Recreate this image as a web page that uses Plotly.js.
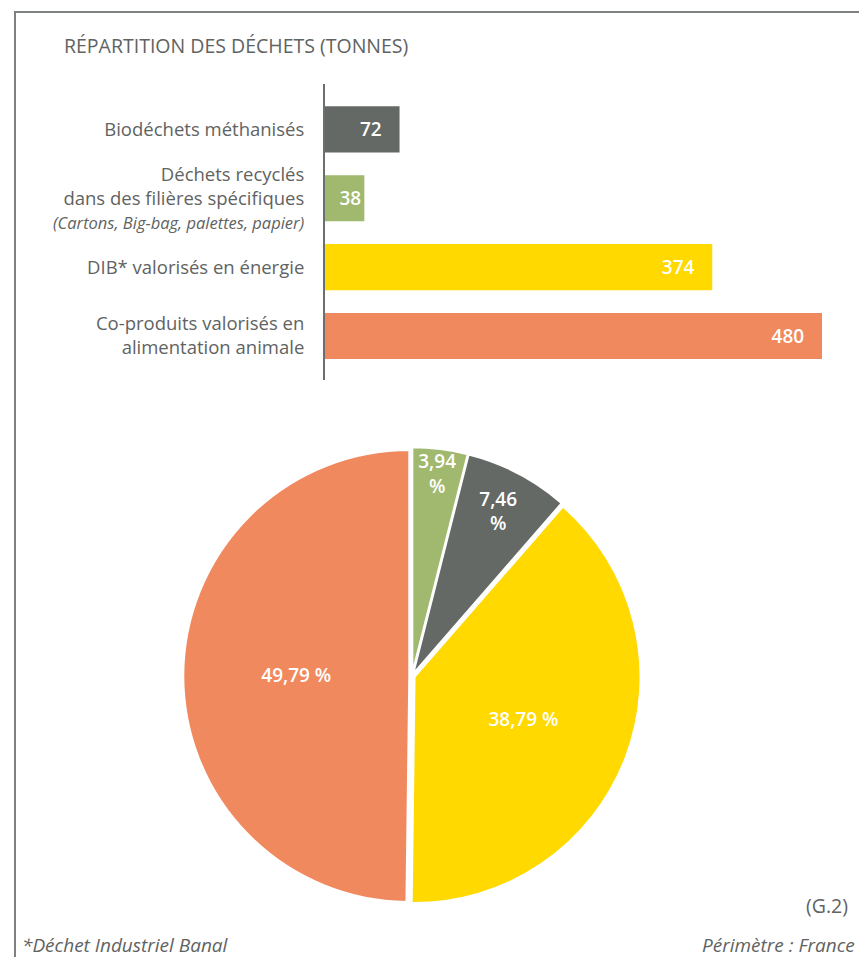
<!DOCTYPE html>
<html>
<head>
<meta charset="utf-8">
<script src="https://cdn.plot.ly/plotly-3.0.1.min.js"></script>
<style>html,body{margin:0;padding:0;background:#fff;}#chart{width:859px;height:957px;}</style>
</head>
<body>
<div id="chart"></div>
<script>
// ---- data ----
const categories = ["Biodéchets méthanisés", "Déchets recyclés", "DIB valorisés", "Co-produits"];
const tickLabels = [
  "Biodéchets méthanisés",
  "Déchets recyclés<br>dans des filières spécifiques<br><i><span style=\"font-size:16.5px\">(Cartons, Big-bag, palettes, papier)</span></i>",
  "DIB* valorisés en énergie",
  "Co-produits valorisés en<br>alimentation animale"
];
const tonnes = [72, 38, 374, 480];
const barColors = ["#646966", "#a1b96f", "#ffd900", "#f08a5e"];

const pieLabels = ["Déchets recyclés", "Biodéchets méthanisés", "DIB valorisés", "Co-produits"];
const piePercent = [3.94, 7.46, 38.79, 49.79];
const pieText = ["3,94<br>%", "7,46<br>%", "38,79 %", "49,79 %"];
const pieColors = ["#a1b96f", "#646966", "#ffd900", "#f08a5e"];

const W = 859, H = 957;
const px = x => x / W;
const py = y => 1 - y / H;
const grey = "#5f6362";
const font = "Open Sans, Noto Sans, sans-serif";

const bar = {
  type: "bar", orientation: "h",
  x: tonnes, y: categories,
  marker: {color: barColors},
  text: tonnes.map(v => v >= 50 ? v + "\u00a0\u00a0\u00a0" : String(v)),
  textposition: "inside", insidetextanchor: "end", textangle: 0,
  textfont: {color: "#ffffff", size: 19, family: font, weight: 600},
  constraintext: "none",
  cliponaxis: false,
  hoverinfo: "skip",
  xaxis: "x", yaxis: "y", showlegend: false
};

const pull = 0.012;
const R = 226 * (1 + pull);
const cx = 412, cy = 676;
const pie = {
  type: "pie", labels: pieLabels, values: piePercent,
  text: pieText, textinfo: "text", textposition: "inside",
  insidetextorientation: "horizontal",
  textfont: {color: "#ffffff", size: 19, family: font, weight: 600},
  marker: {colors: pieColors, line: {color: "#ffffff", width: 2}},
  sort: false, direction: "clockwise", rotation: 0,
  pull: [pull, pull, pull, pull],
  domain: {x: [px(cx - R), px(cx + R)], y: [py(cy + R), py(cy - R)]},
  showlegend: false, hoverinfo: "skip"
};

const layout = {
  width: W, height: H,
  margin: {l: 0, r: 0, t: 0, b: 0, pad: 0},
  paper_bgcolor: "#ffffff", plot_bgcolor: "rgba(0,0,0,0)",
  font: {family: font, color: grey},
  bargap: 0.33,
  uniformtext: {minsize: 19, mode: "show"},
  xaxis: {domain: [px(325), px(822)], range: [0, 480], visible: false, fixedrange: true},
  yaxis: {
    domain: [py(380), py(84)], type: "category",
    range: [3.64, -0.66],
    tickvals: categories, ticktext: tickLabels,
    showline: true, linecolor: "#6b6f6d", linewidth: 2,
    ticks: "", ticklabelstandoff: 15, showgrid: false, zeroline: false,
    tickfont: {size: 18.5, color: grey, family: font}
  },
  shapes: [
    {type: "line", xref: "paper", yref: "paper", x0: px(15), x1: px(15), y0: py(12), y1: 0, line: {color: "#7d8280", width: 2}},
    {type: "line", xref: "paper", yref: "paper", x0: px(14), x1: 1, y0: py(12), y1: py(12), line: {color: "#7d8280", width: 2}}
  ],
  annotations: [
    {text: "RÉPARTITION DES DÉCHETS (TONNES)", xref: "paper", yref: "paper", x: px(62), y: py(46), xanchor: "left", yanchor: "middle", showarrow: false, font: {size: 19.5, color: grey, family: font}},
    {text: "<i>*Déchet Industriel Banal</i>", xref: "paper", yref: "paper", x: px(20), y: py(945), xanchor: "left", yanchor: "middle", showarrow: false, font: {size: 19, color: grey, family: font}},
    {text: "<i>Périmètre : France</i>", xref: "paper", yref: "paper", x: px(857), y: py(945), xanchor: "right", yanchor: "middle", showarrow: false, font: {size: 19, color: grey, family: font}},
    {text: "(G.2)", xref: "paper", yref: "paper", x: px(850), y: py(905), xanchor: "right", yanchor: "middle", showarrow: false, font: {size: 19.5, color: grey, family: font}}
  ]
};

Plotly.newPlot("chart", [bar, pie], layout, {staticPlot: true, displayModeBar: false});
</script>
</body>
</html>
